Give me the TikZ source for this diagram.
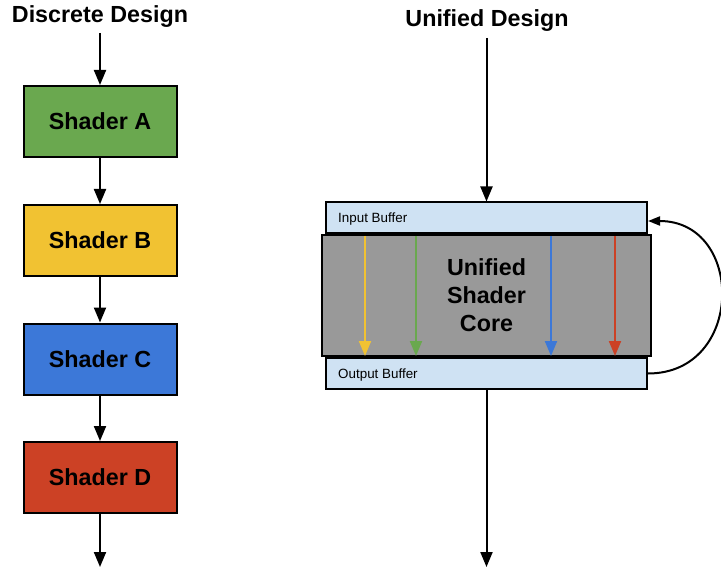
\documentclass[tikz,border=0pt]{standalone}
\usepackage{fontspec}
\setmainfont{Liberation Sans}
\usetikzlibrary{arrows.meta}

\definecolor{shgreen}{HTML}{6AA84F}
\definecolor{shyellow}{HTML}{F1C232}
\definecolor{shblue}{HTML}{3C78D8}
\definecolor{shred}{HTML}{CC4125}
\definecolor{coregray}{HTML}{999999}
\definecolor{bufblue}{HTML}{CFE2F3}

\tikzset{
  flow/.style={line width=2pt, -{Triangle[length=15pt,width=12pt]}},
  bigtext/.style={font=\fontsize{23.3}{28}\selectfont\bfseries},
  shaderbox/.style={draw, line width=2pt, bigtext, minimum width=153pt, minimum height=71pt},
  bufbox/.style={draw, line width=2pt, fill=bufblue, minimum width=321pt, minimum height=31pt},
  buflabel/.style={font=\fontsize{13.4}{16}\selectfont, anchor=base west, inner sep=0pt},
}

\begin{document}
\begin{tikzpicture}[x=1pt,y=-1pt]
	\useasboundingbox (0,0) rectangle (721,567);

	% discrete design
	\node[bigtext, anchor=base] (dtitle) at (100,23) {Discrete Design};
	\foreach \n/\c/\y in {A/shgreen/121.5, B/shyellow/240.5, C/shblue/359, D/shred/477.5}
		\node[shaderbox, fill=\c] (sh\n) at (100,\y) {Shader \n};
	\coordinate (din) at (100,33);
	\coordinate (dout) at (100,567);
	\draw[flow] (din) -- (shA);
	\draw[flow] (shA) -- (shB);
	\draw[flow] (shB) -- (shC);
	\draw[flow] (shC) -- (shD);
	\draw[flow] (shD) -- (dout);

	% unified design
	\node[bigtext, anchor=base] (utitle) at (487,27) {Unified Design};
	\node[bufbox] (ibuf) at (486.5,218) {};
	\node[bufbox] (obuf) at (486.5,373.5) {};
	\node[draw, line width=2pt, fill=coregray, minimum width=329pt, minimum height=121pt,
		bigtext, align=center] (core) at (486.5,295.5) {Unified\\Shader\\Core};
	\node[buflabel] (ilabel) at (338,223) {Input Buffer};
	\node[buflabel] (olabel) at (338,378) {Output Buffer};
	\foreach \c/\x in {shyellow/365, shgreen/416, shblue/551, shred/615}
		\draw[flow, \c, shorten <=2pt, shorten >=1pt] (core.north -| \x,0) -- (core.south -| \x,0);
	\coordinate (uin) at (486.5,38);
	\coordinate (uout) at (486.5,567);
	\draw[flow] (uin) -- (ibuf);
	\draw[flow] (obuf) -- (uout);
	\draw[line width=2pt, -{Triangle[length=12pt,width=9pt]}]
		(obuf.east) .. controls +(97,0) and +(97,0) .. ([yshift=-3pt]ibuf.east);
\end{tikzpicture}
\end{document}
